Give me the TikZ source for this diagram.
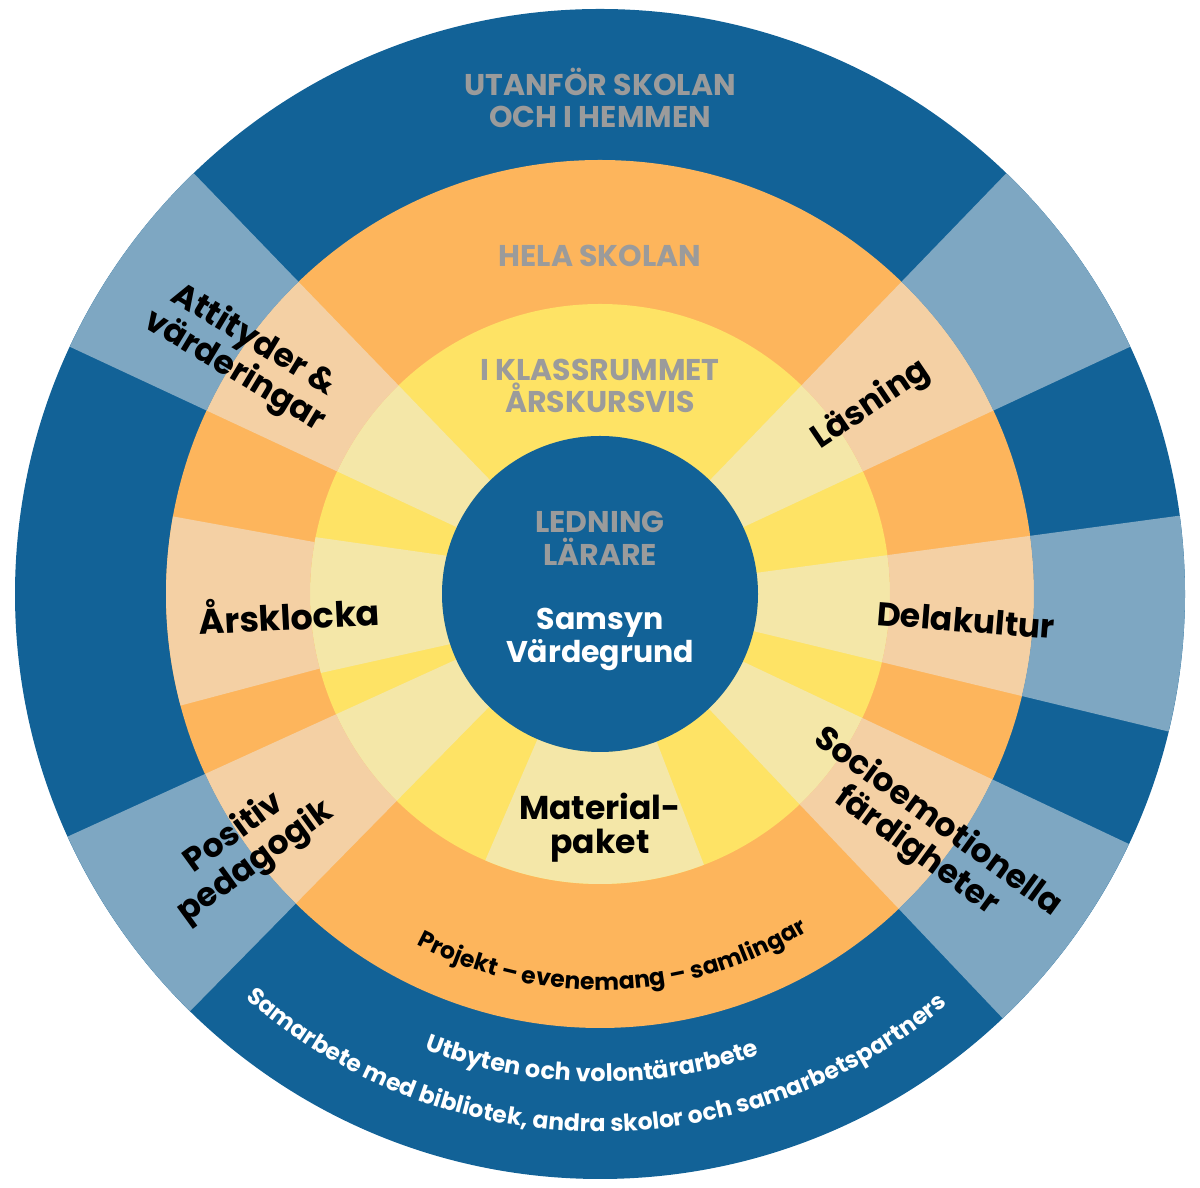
\documentclass[tikz,border=0pt]{standalone}
\usepackage{fontspec}
\setmainfont{Poppins}
\usetikzlibrary{decorations.text}
\definecolor{dblue}{HTML}{126297}
\definecolor{lblue}{HTML}{7EA7C2}
\definecolor{orng}{HTML}{FDB55C}
\definecolor{peach}{HTML}{F4D0A4}
\definecolor{yel}{HTML}{FEE365}
\definecolor{lyel}{HTML}{F4E7A8}
\definecolor{gry}{HTML}{9B9B9B}
% inner start, inner end, outer start, outer end, r1, r2, colour
\newcommand\ringpart[7]{%
  \fill[#7] (#1:#5pt) arc[start angle=#1,end angle=#2,radius=#5pt]
    -- (#4:#6pt) arc[start angle=#4,end angle=#3,radius=#6pt] -- cycle;}
\newcommand\spoke[2]{% a1 a2 with three rings
  \ringpart{#1}{#2}{#1}{#2}{158}{290}{lyel}
  \ringpart{#1}{#2}{#1}{#2}{290}{434}{peach}
  \ringpart{#1}{#2}{#1}{#2}{434}{585}{lblue}}
\tikzset{
  greytitle/.style={text=gry, font=\fontsize{30}{33}\selectfont\bfseries, anchor=base, inner sep=0pt},
  whitetitle/.style={text=white, font=\fontsize{30}{31}\selectfont\bfseries, anchor=base, inner sep=0pt},
  blacktitle/.style={text=black, font=\fontsize{33}{34}\selectfont\bfseries, anchor=base, inner sep=0pt},
  spokelabel/.style={text=black, font=\fontsize{33}{36}\selectfont\bfseries, align=center, inner sep=0pt},
}
\begin{document}
\begin{tikzpicture}[x=1pt,y=1pt]
\useasboundingbox (0,0) rectangle (1200,1188);
\begin{scope}[shift={(600,594)}]
  % rings
  \fill[dblue] (0,0) circle[radius=585pt];
  \fill[orng] (0,0) circle[radius=434pt];
  \fill[yel] (0,0) circle[radius=290pt];
  % spokes through all rings
  \spoke{25}{46}
  \spoke{134}{155}
  \spoke{204.5}{225.5}
  \spoke{313.5}{334.7}
  \spoke{-13.6}{7.7}
  % Årsklocka: yellow and orange rings only
  \ringpart{166}{198.5}{168.7}{195.8}{158}{290}{lyel}
  \ringpart{169.7}{194.9}{169.7}{194.9}{290}{434}{peach}
  % Materialpaket: yellow ring only
  \ringpart{246.7}{291}{246.7}{291}{158}{290}{lyel}
  % centre
  \fill[dblue] (0,0) circle[radius=158pt];

  % titles
  \node[greytitle] (utan1) at (0,498) {UTANFÖR SKOLAN};
  \node[greytitle] (utan2) at (0,466) {OCH I HEMMEN};
  \node[greytitle] (hela) at (0,327) {HELA SKOLAN};
  \node[greytitle] (klass1) at (0,213) {I KLASSRUMMET};
  \node[greytitle] (klass2) at (0,181) {ÅRSKURSVIS};
  \node[greytitle] (led1) at (0,61) {LEDNING};
  \node[greytitle] (led2) at (0,28) {LÄRARE};
  \node[whitetitle] (sam1) at (0,-36) {Samsyn};
  \node[whitetitle] (sam2) at (0,-69) {Värdegrund};
  \node[blacktitle] (mat1) at (0,-226) {Material-};
  \node[blacktitle] (mat2) at (0,-260) {paket};

  % spoke labels
  \node[spokelabel, rotate=-31] (att) at (-356,238) {Attityder \&\\värderingar};
  \node[spokelabel, rotate=34] (las) at (271,189) {Läsning};
  \node[spokelabel, rotate=-4.5] (dela) at (366,-26) {Delakultur};
  \node[spokelabel, rotate=-36] (socio) at (327,-243) {Socioemotionella\\färdigheter};
  \node[spokelabel, rotate=36] (pos) at (-355,-254) {Positiv\\pedagogik};
  \node[spokelabel, rotate=3, font=\fontsize{35}{36}\selectfont\bfseries] (ars) at (-311,-19) {Årsklocka};

  % curved texts
  \path[decorate, decoration={text along path, text align=center, text color=black,
     text={|\fontsize{23.5}{24}\selectfont\bfseries|Projekt – evenemang – samlingar}}]
     (236:396pt) arc[start angle=236,end angle=308,radius=396pt];
  \path[decorate, decoration={text along path, text align=center, text color=white,
     text={|\fontsize{24}{24}\selectfont\bfseries|Utbyten och volontärarbete}}]
     (229:488pt) arc[start angle=229,end angle=309,radius=488pt];
  \path[decorate, decoration={text along path, text align=center, text color=white,
     text={|\fontsize{23.5}{24}\selectfont\bfseries|Samarbete med bibliotek, andra skolor och samarbetspartners}}]
     (220:538pt) arc[start angle=220,end angle=319,radius=538pt];
\end{scope}
\end{tikzpicture}
\end{document}
